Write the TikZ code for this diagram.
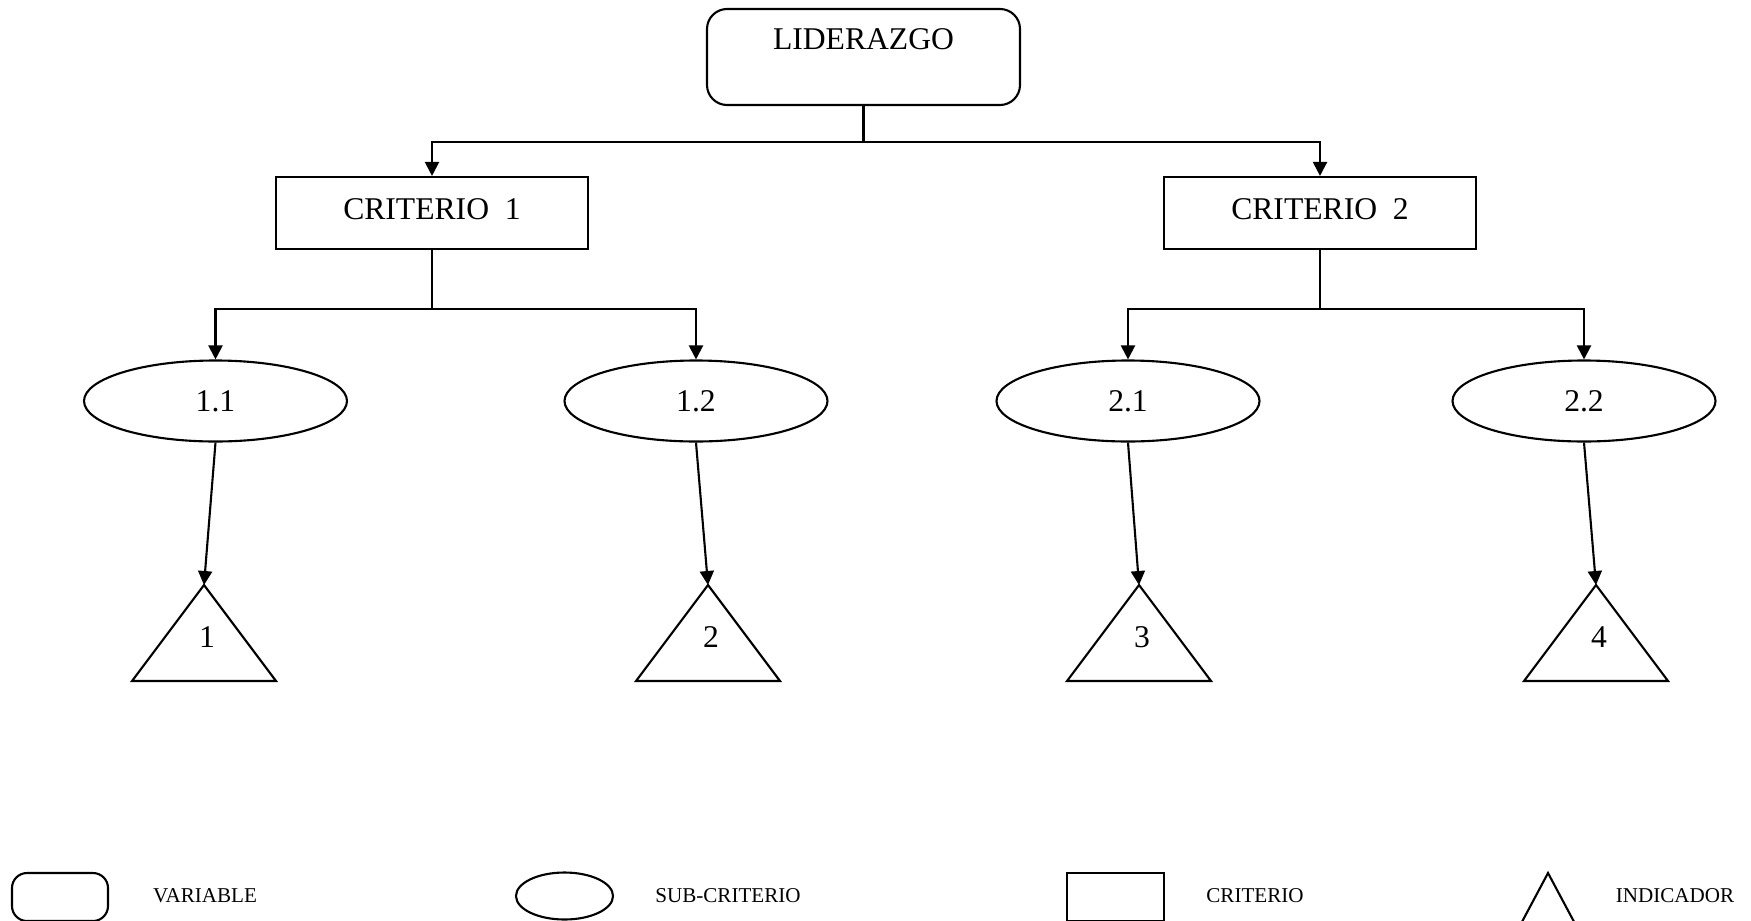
\documentclass[tikz,border=0pt]{standalone}
\usepackage{fontspec}
\setmainfont{Liberation Serif}
\usepackage{tikz}
\usetikzlibrary{arrows.meta}
\usetikzlibrary{shapes.geometric}

\begin{document}
\begin{tikzpicture}[x = 0.1mm, y = -0.1mm, line width = 0.6pt,
    bigtext/.style = {font = \fontsize{9}{11}\selectfont},
    legtext/.style = {font = \fontsize{6}{7}\selectfont, inner sep = 0},
    arr/.style = {-{Triangle[length = 1.4mm, width = 1.4mm]}},
    varbox/.style = {bigtext, draw, rectangle, rounded corners = 2mm, inner sep = 0, minimum width = 31.3mm, text height = 4mm, text depth = 5.6mm},
    critbox/.style = {bigtext, draw, rectangle, inner sep = 0, minimum width = 31.2mm, text height = 4.2mm, text depth = 3mm},
    subcrit/.style = {bigtext, draw, ellipse, inner sep = 0, minimum width = 26.3mm, minimum height = 8.1mm},
    numtext/.style = {bigtext, inner sep = 0}]
    \path [use as bounding box, clip] (0, 0) rectangle (1751, 920);
    % tree
    \node [varbox] (lid) at (863.5, 57) {LIDERAZGO};
    \node [critbox] (c1) at (432, 213) {CRITERIO~~1};
    \node [critbox] (c2) at (1320, 213) {CRITERIO~~2};
    \coordinate (j0) at (863.5, 142);
    \draw (lid.south) -- (j0);
    \draw [arr] (j0) -| (c1.north);
    \draw [arr] (j0) -| (c2.north);
    \node [subcrit] (s11) at (215.5, 401) {1.1};
    \node [subcrit] (s12) at (696, 401) {1.2};
    \node [subcrit] (s21) at (1128, 401) {2.1};
    \node [subcrit] (s22) at (1584, 401) {2.2};
    \coordinate (j1) at (432, 309);
    \coordinate (j2) at (1320, 309);
    \draw (c1.south) -- (j1);
    \draw [arr] (j1) -| (s11.north);
    \draw [arr] (j1) -| (s12.north);
    \draw (c2.south) -- (j2);
    \draw [arr] (j2) -| (s21.north);
    \draw [arr] (j2) -| (s22.north);
    % indicators
    \coordinate (t1) at (204, 585);
    \coordinate (t2) at (708, 585);
    \coordinate (t3) at (1139, 585);
    \coordinate (t4) at (1596, 585);
    \draw (t1) -- ++(72, 96) -- ++(-144, 0) -- cycle;
    \draw (t2) -- ++(72, 96) -- ++(-144, 0) -- cycle;
    \draw (t3) -- ++(72, 96) -- ++(-144, 0) -- cycle;
    \draw (t4) -- ++(72, 96) -- ++(-144, 0) -- cycle;
    \node [numtext] (n1) at (207, 637.5) {1};
    \node [numtext] (n2) at (711, 637.5) {2};
    \node [numtext] (n3) at (1142, 637.5) {3};
    \node [numtext] (n4) at (1599, 637.5) {4};
    \draw [arr] (s11.south) -- (t1);
    \draw [arr] (s12.south) -- (t2);
    \draw [arr] (s21.south) -- (t3);
    \draw [arr] (s22.south) -- (t4);
    % legend
    \node [draw, rectangle, rounded corners = 1.5mm, minimum width = 9.6mm, minimum height = 4.8mm] (lvar) at (60, 897) {};
    \node [legtext] (lvartext) at (205, 896) {VARIABLE};
    \node [draw, ellipse, minimum width = 9.7mm, minimum height = 4.7mm] (lsub) at (564.5, 896) {};
    \node [legtext] (lsubtext) at (728, 896) {SUB-CRITERIO};
    \node [draw, rectangle, minimum width = 9.7mm, minimum height = 4.8mm] (lcrit) at (1115.5, 897) {};
    \node [legtext] (lcrittext) at (1255, 896) {CRITERIO};
    \coordinate (lind) at (1548, 873);
    \draw (lind) -- ++(32, 60) -- ++(-64, 0) -- cycle;
    \node [legtext] (lindtext) at (1675, 896) {INDICADOR};
\end{tikzpicture}
\end{document}
